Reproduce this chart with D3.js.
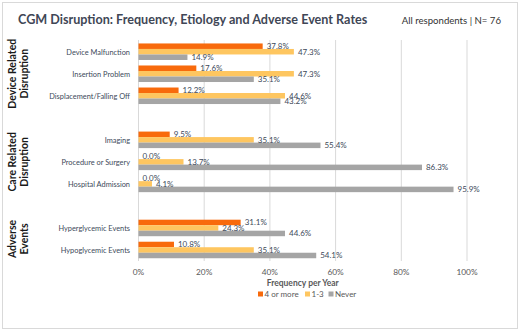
<!DOCTYPE html>
<html><head><meta charset="utf-8">
<script src="https://cdn.jsdelivr.net/npm/d3@7"></script>
<style>body{margin:0;background:#fff;}svg{display:block;font-family:Lato,"Open Sans",sans-serif;}</style>
</head><body>
<svg id="c" width="520" height="331"></svg>
<script>
const categories = ["Device Malfunction","Insertion Problem","Displacement/Falling Off","Imaging","Procedure or Surgery","Hospital Admission","Hyperglycemic Events","Hypoglycemic Events"];
const groupOf = [0,0,0,1,1,1,2,2];
const groups = [["Device Related","Disruption"],["Care Related","Disruption"],["Adverse","Events"]];
const seriesNames = ["4 or more","1-3","Never"];
const fourOrMore = [37.8,17.6,12.2,9.5,0.0,0.0,31.1,10.8];
const oneToThree = [47.3,47.3,44.6,35.1,13.7,4.1,24.3,35.1];
const never = [14.9,35.1,43.2,55.4,86.3,95.9,44.6,54.1];
const xTicks = [0,20,40,60,80,100];
const colors = ["#F86A0C","#FEC660","#A5A5A5"];

const svg = d3.select("#c");
svg.append("rect").attr("x",2.5).attr("y",2.5).attr("width",515).attr("height",326).attr("fill","#fff").attr("stroke","#D9D9D9");

// slots including gaps between groups
const slots = [];
categories.forEach((c,i)=>{ if(i>0 && groupOf[i]!==groupOf[i-1]) slots.push("gap"+i); slots.push(c); });
const y = d3.scaleBand().domain(slots).range([40.7,261]).paddingInner(0.25).paddingOuter(0.125);
const ySub = d3.scaleBand().domain(seriesNames).range([0,y.bandwidth()]);
const x = d3.scaleLinear().domain([0,100]).range([138.5,467]);

// grid
svg.append("g").selectAll("line").data(xTicks).join("line")
  .attr("x1",d=>x(d)).attr("x2",d=>x(d)).attr("y1",40).attr("y2",261)
  .attr("stroke","#D9D9D9").attr("stroke-width",1);

// tick labels
svg.append("g").selectAll("text").data(xTicks).join("text")
  .attr("x",d=>x(d)).attr("y",274.5).attr("text-anchor","middle")
  .attr("font-size",8.3).attr("fill","#595959").text(d=>d+"%");

const series = [fourOrMore, oneToThree, never];
const bars = [];
categories.forEach((c,i)=>series.forEach((s,j)=>bars.push({c,j,v:s[i]})));

svg.append("g").selectAll("rect").data(bars).join("rect")
  .attr("x",x(0)).attr("y",d=>y(d.c)+ySub(seriesNames[d.j]))
  .attr("width",d=>x(d.v)-x(0)).attr("height",ySub.bandwidth())
  .attr("fill",d=>colors[d.j]);

svg.append("g").selectAll("text").data(bars).join("text")
  .attr("x",d=>x(d.v)+4).attr("y",d=>y(d.c)+ySub(seriesNames[d.j])+ySub.bandwidth()/2+3)
  .attr("font-size",8).attr("fill","#404A5A").text(d=>d.v.toFixed(1)+"%");

// category labels
svg.append("g").selectAll("text").data(categories).join("text")
  .attr("x",130).attr("y",d=>y(d)+y.bandwidth()/2+3)
  .attr("text-anchor","end").attr("font-size",7.4).attr("fill","#404A5A").text(d=>d);

// group labels
groups.forEach((g,gi)=>{
  const cats = categories.filter((c,i)=>groupOf[i]===gi);
  const cy = (y(cats[0]) + y(cats[cats.length-1]) + y.bandwidth())/2;
  g.forEach((line,li)=>{
    svg.append("text").attr("transform",`translate(${15.5+li*12.5},${cy}) rotate(-90)`)
      .attr("text-anchor","middle").attr("font-size",10.5).attr("font-weight","bold")
      .attr("fill","#1a1a1a").text(line);
  });
});

// title
svg.append("text").attr("x",18).attr("y",24).attr("font-size",12.6).attr("font-weight","bold")
  .attr("fill","#3F4756").text("CGM Disruption: Frequency, Etiology and Adverse Event Rates");
svg.append("text").attr("x",501).attr("y",24).attr("text-anchor","end").attr("font-size",9.6)
  .attr("fill","#333").text("All respondents | N= 76");

// axis title
svg.append("text").attr("x",x(50)).attr("y",286).attr("text-anchor","middle")
  .attr("font-size",8.5).attr("font-weight","bold").attr("fill","#595959").text("Frequency per Year");

// legend
const legX = [258,305,328.5];
const lg = svg.append("g").selectAll("g").data(seriesNames).join("g")
  .attr("transform",(d,i)=>`translate(${legX[i]},294.5)`);
lg.append("rect").attr("x",0).attr("y",-3).attr("width",5).attr("height",5).attr("fill",(d,i)=>colors[i]);
lg.append("text").attr("x",6.5).attr("y",2.5).attr("font-size",8).attr("fill","#595959").text(d=>d);
</script>
</body></html>
